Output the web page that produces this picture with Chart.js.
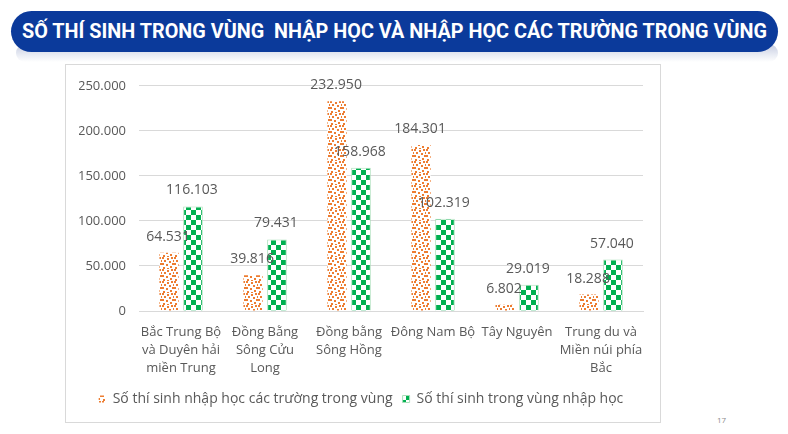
<!DOCTYPE html>
<html>
<head>
<meta charset="utf-8">
<script src="https://cdn.jsdelivr.net/npm/chart.js@4"></script>
<style>
  html,body{margin:0;padding:0;background:#fff;width:788px;height:434px;overflow:hidden;position:relative;}
  #shadow{position:absolute;left:16px;top:44px;width:762px;height:18px;border-radius:12px;
    background:linear-gradient(#c4cbe0,#e9ecf4 60%,#ffffff);}
  #title{position:absolute;left:11px;top:11px;width:767px;height:41px;border-radius:21px;background:#0b3a9b;overflow:hidden;}
  #ttext{position:absolute;left:0;top:0;white-space:nowrap;color:#fff;font-family:Roboto,'Liberation Sans',sans-serif;
    font-weight:bold;font-size:21px;line-height:41px;transform-origin:0 0;}
  #frame{position:absolute;left:65px;top:64px;width:594px;height:357px;border:1px solid #d9d9d9;background:#fff;}
  #wrap{position:absolute;left:0;top:0;width:594px;height:357px;}
  #page{position:absolute;left:717px;top:414px;font-family:'Open Sans',sans-serif;font-size:8px;color:#8c8c8c;}
</style>
</head>
<body>
<div id="shadow"></div>
<div id="title"><span id="ttext">SỐ THÍ SINH TRONG VÙNG&nbsp; NHẬP HỌC VÀ NHẬP HỌC CÁC TRƯỜNG TRONG VÙNG</span></div>
<div id="frame"><div id="wrap"><canvas id="c" width="594" height="357"></canvas></div></div>
<div id="page">17</div>
<script>
const categories = [
  ["Bắc Trung Bộ","và Duyên hải","miền Trung"],
  ["Đồng Bằng","Sông Cửu","Long"],
  ["Đồng bằng","Sông Hồng"],
  ["Đông Nam Bộ"],
  ["Tây Nguyên"],
  ["Trung du và","Miền núi phía","Bắc"]
];
const seriesNames = ["Số thí sinh nhập học các trường trong vùng","Số thí sinh trong vùng nhập học"];
const localEnroll = [64531, 39816, 232950, 184301, 6802, 18288];
const regionEnroll = [116103, 79431, 158968, 102319, 29019, 57040];
const yTicks = [0, 50000, 100000, 150000, 200000, 250000];

// fit title text
(function(){
  const t=document.getElementById('ttext');
  const w=t.getBoundingClientRect().width;
  const target=745;
  t.style.transform='scaleX('+(target/w)+')';
  t.style.left=((767-target)/2)+'px';
})();

function fmt(v){ return String(v).replace(/\B(?=(\d{3})+(?!\d))/g, "."); }

function makeDots(){
  const t=document.createElement('canvas'); t.width=12; t.height=12;
  const g=t.getContext('2d'); g.fillStyle='#ffffff'; g.fillRect(0,0,12,12);
  g.fillStyle='#ed7d31';
  const pts=[[0,0],[5,1],[9,0],[2,3],[7,4],[10,6],[0,6],[4,7],[8,9],[1,10],[5,11],[11,3]];
  pts.forEach(p=>g.fillRect(p[0],p[1],2,2));
  return t;
}
function makeCheck(){
  const t=document.createElement('canvas'); t.width=10; t.height=10;
  const g=t.getContext('2d'); g.fillStyle='#ffffff'; g.fillRect(0,0,10,10);
  g.fillStyle='#00b050'; g.fillRect(0,0,5,5); g.fillRect(5,5,5,5);
  return t;
}
const ctx=document.getElementById('c').getContext('2d');
const dotPat=ctx.createPattern(makeDots(),'repeat');
const chkPat=ctx.createPattern(makeCheck(),'repeat');

const labelPlugin={
  id:'vals',
  afterDatasetsDraw(chart){
    const c=chart.ctx; c.save();
    c.font="14px 'Open Sans', sans-serif"; c.fillStyle='#595959';
    c.textAlign='center'; c.textBaseline='middle';
    chart.data.datasets.forEach((ds,i)=>{
      const meta=chart.getDatasetMeta(i);
      meta.data.forEach((el,j)=>{ c.fillText(fmt(ds.data[j]), el.x-1, el.y-16); });
    });
    c.restore();
  }
};

new Chart(ctx,{
  type:'bar',
  data:{
    labels:categories,
    datasets:[
      {label:seriesNames[0],data:localEnroll,backgroundColor:dotPat,borderWidth:0,
       categoryPercentage:0.57,barPercentage:0.8},
      {label:seriesNames[1],data:regionEnroll,backgroundColor:chkPat,borderColor:'#a9dfb9',borderWidth:1,
       categoryPercentage:0.57,barPercentage:0.82}
    ]
  },
  options:{
    responsive:false,animation:false,
    layout:{padding:{top:13,right:17,left:13,bottom:6}},
    plugins:{
      tooltip:{enabled:false},
      legend:{position:'bottom',
        labels:{boxWidth:7,boxHeight:7,color:'#595959',padding:10,
          font:{family:"'Open Sans', sans-serif",size:14}}}
    },
    scales:{
      x:{
        grid:{display:false},
        border:{display:true,color:'#d9d9d9'},
        ticks:{color:'#595959',font:{family:"'Open Sans', sans-serif",size:13,lineHeight:1.38},padding:4,maxRotation:0,autoSkip:false},
        afterFit(s){ s.height=71; }
      },
      y:{
        min:0,max:250000,
        afterBuildTicks(s){ s.ticks=yTicks.map(v=>({value:v})); },
        grid:{color:'#d9d9d9',drawTicks:false,lineWidth:1},
        border:{display:false},
        ticks:{color:'#595959',font:{family:"'Open Sans', sans-serif",size:13},padding:13,
          callback:(v)=>fmt(v)},
        afterFit(s){ s.width=60; }
      }
    }
  },
  plugins:[labelPlugin]
});
</script>
</body>
</html>
